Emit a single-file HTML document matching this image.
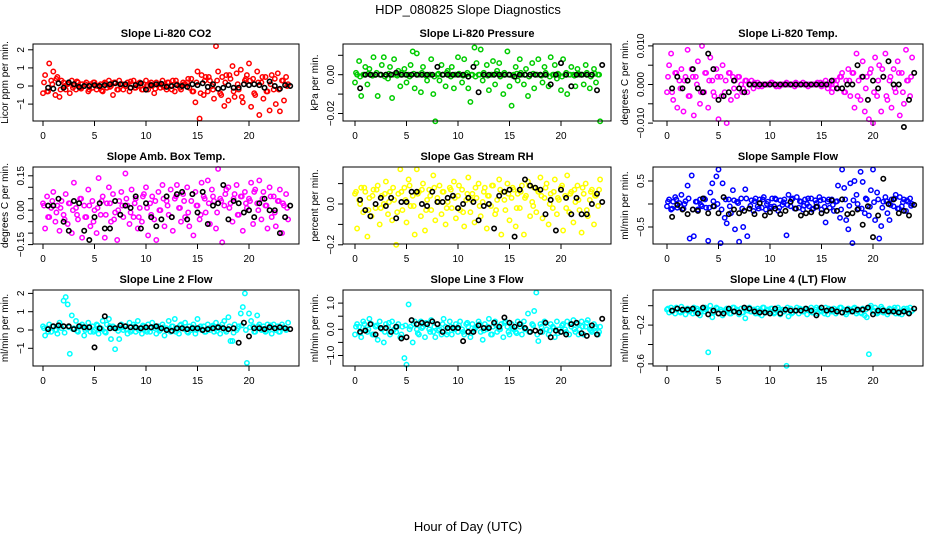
<!DOCTYPE html>
<html><head><meta charset="utf-8"><style>
body{margin:0;background:#fff}
svg{display:block;font-family:"Liberation Sans",sans-serif}
</style></head><body>
<svg id="chart" width="936" height="540" viewBox="0 0 936 540">
<text x="468" y="14" text-anchor="middle" font-size="13">HDP_080825  Slope Diagnostics</text>
<text x="468" y="531" text-anchor="middle" font-size="13">Hour of Day (UTC)</text>
</svg>
<script>
// hours of the regular sample grids
const colorHours = Array.from({length:120},(_,i)=>i*0.2);
const bandHours = Array.from({length:60},(_,i)=>i*0.4+0.1);
const blackHours = Array.from({length:48},(_,i)=>(i+1)*0.5);
const xTickValues = [0,5,10,15,20];
const xTickLabels = ["0","5","10","15","20"];

const titles = ["Slope Li-820 CO2","Slope Li-820 Pressure","Slope Li-820 Temp.","Slope Amb. Box Temp.","Slope Gas Stream RH","Slope Sample Flow","Slope Line 2 Flow","Slope Line 3 Flow","Slope Line 4 (LT) Flow"];
const yTitles = ["Licor ppm per min.","kPa per min.","degrees C per min.","degrees C per min.","percent per min.","ml/min per min.","ml/min per min.","ml/min per min.","ml/min per min."];
const colors = ["#ff0000","#00cc00","#ff00ff","#ff00ff","#ffff00","#0000ff","#00ffff","#00ffff","#00ffff"];

const yTicks = [[-1,0,1,2],[-0.02,-0.01,0,0.01],[-0.01,-0.005,0,0.005,0.01],[-0.15,-0.1,-0.05,0,0.05,0.1,0.15],[-0.2,-0.1,0,0.1],[-0.5,0,0.5],[-1,0,1,2],[-1,-0.5,0,0.5,1],[-0.6,-0.4,-0.2,0]];
const yTickLabels = [["−1","0","1","2"],["−0.02","","0.00",""],["−0.010","","0.000","","0.010"],["−0.15","","","0.00","","","0.15"],["−0.2","","0.0",""],["−0.5","","0.5"],["−1","0","1","2"],["−1.0","","0.0","","1.0"],["−0.6","","−0.2",""]];

const colorValues0 = [-0.4,0.6,-0.3,1.25,0.3,0.8,-0.5,0.5,-0.6,0.3, 0.2,-0.2,0.1,-0.4,0.3,0.0,-0.2,0.2,-0.1,0.1, 0.0,0.2,-0.3,0.1,-0.1,0.2,-0.2,0.0,0.1,-0.3, 0.2,-0.1,0.3,0.0,-0.5,0.2,-0.2,0.3,0.1,-0.2, 0.0,0.2,-0.3,0.1,0.3,-0.1,0.0,0.2,-0.2,0.1, 0.3,-0.2,0.1,0.0,-0.4,0.2,0.1,-0.1,0.3,0.0, -0.2,0.2,0.0,0.3,-0.3,0.1,0.0,-0.2,0.2,0.1, 0.2,-0.1,0.4,-0.3,-0.9,0.8,-1.8,0.6,-0.5,0.5, -0.3,0.3,0.0,-0.7,2.2,0.8,-0.4,0.5,-1.1,0.6, -0.8,0.4,1.1,-0.6,0.7,-0.2,0.9,-0.9,0.3,0.6, 1.25,-1.15,0.4,-0.5,0.8,-1.6,0.2,-0.7,0.5,-0.3, -1.35,0.6,-0.2,-1.0,0.7,-1.4,0.3,-0.8,0.5,0.1];
const bandValues0 = [0.2,-0.3,0.1,0.4,-0.2,0.0,0.15,-0.1,0.25,-0.15, 0.1,-0.2,0.2,0.0,-0.25,0.15,-0.05,0.2,-0.2,0.1, 0.0,0.25,-0.1,0.15,-0.2,0.05,0.2,-0.15,0.1,-0.05, 0.2,-0.2,0.3,-0.1,0.1,0.4,-0.3,0.2,-0.4,0.3, 0.5,-0.2,0.3,-0.5,0.2,0.6,-0.3,0.1,-0.6,0.4, 0.3,-0.4,0.2,0.5,-0.3,0.1,0.4,-0.2,0.3,0.0];
const blackValues0 = [-0.1,-0.15,0.15,-0.1,0.2,0.1,-0.05,0.0,0.0,0.05,0.0,0.05,0.1,0.15,0.1,0.1,-0.1,0.05,0.15,-0.2,0.05,0.1,0.12,-0.05,0.0,0.05,0.0,-0.05,0.1,0.05,0.15,-0.05,0.1,-0.15,-0.1,0.05,-0.1,-0.1,0.1,0.05,0.1,0.05,-0.1,0.25,0.0,-0.15,0.05,0.0];

const colorValues1 = [-0.004,0.0,0.007,-0.011,0.0,0.004,-0.005,0.003,0.0,0.009, 0.0,-0.011,0.0,0.005,0.009,0.0,-0.002,0.004,-0.012,0.008, 0.0,0.002,-0.006,0.0,0.003,-0.004,0.0,0.005,0.012,-0.007, 0.011,0.0,-0.009,0.004,0.0,-0.003,0.0,0.008,-0.01,-0.024, 0.0,-0.003,0.005,0.0,-0.006,0.002,0.0,0.004,-0.007,0.0, 0.009,0.0,-0.004,0.008,0.0,-0.007,-0.014,0.0,0.014,0.006, 0.0,0.013,-0.003,0.0,0.005,-0.008,0.0,0.007,-0.005,0.002, 0.006,0.0,-0.01,0.0,0.012,-0.006,-0.016,0.0,0.004,-0.003, 0.008,0.0,-0.005,0.003,-0.011,0.0,0.006,-0.007,0.0,0.008, 0.0,-0.004,0.004,0.0,-0.006,0.009,0.0,0.005,-0.002,0.0, -0.008,0.008,0.0,-0.01,0.0,0.004,0.0,-0.006,0.003,0.0, 0.0,-0.005,0.005,0.0,-0.007,0.0,0.003,-0.004,0.0,-0.024];
const bandValues1 = [0.001,-0.001,0,0.0005,-0.0005,0.001,0,-0.001,0.0005,0, -0.0005,0.001,0,-0.001,0.0005,0,0.001,-0.0005,0,-0.001, 0.0005,0,0.001,-0.001,0,0.0005,-0.0005,0.001,0,-0.001, 0,0.001,-0.0005,0,0.0005,-0.001,0.001,0,-0.0005,0.0005, 0.001,0,-0.001,0.0005,0,-0.0005,0.001,-0.001,0,0.0005, -0.001,0.001,0,-0.0005,0.0005,0,0.001,-0.001,0.0005,0];
const blackValues1 = [-0.007,0,0,0,0,0,0,0.001,0,0,0,0,0,0,0,0.004,0,0,0,0,0,-0.001,0.004,-0.009,0,0,0,0,0,0,-0.001,0,0,0,0,0,0,-0.005,0,0.006,0,-0.006,0,0,0,0,-0.008,0.005];

const colorValues2 = [-0.002,0.005,0.008,-0.004,0.003,-0.006,0.001,0.004,-0.007,0.002, 0.009,-0.003,0.004,-0.008,0.002,0.006,-0.005,0.010,-0.002,0.003, -0.006,0.007,0.001,-0.003,0.004,-0.009,0.002,0.005,-0.002,-0.010, 0.003,-0.004,0.002,0.001,-0.003,0.002,0.000,-0.001,0.001,-0.002, 0.000,0.001,-0.001,0.000,0.0005,0.000,-0.0005,0.000,0.000,0.000, 0.000,0.0005,0.000,-0.0005,0.000,0.000,0.000,0.000,0.0005,0.000, 0.000,0.000,-0.0005,0.000,0.000,0.000,0.0005,0.000,0.000,0.000, 0.000,0.000,0.000,0.0005,0.000,-0.0005,0.000,0.001,-0.001,0.000, -0.002,0.001,0.000,-0.001,0.002,0.003,-0.002,0.001,0.004,-0.003, 0.003,-0.006,0.008,0.001,-0.004,0.006,-0.007,0.002,-0.009,0.004, -0.010,0.007,-0.003,0.005,-0.007,0.002,0.008,-0.004,0.001,-0.006, 0.004,-0.002,0.006,-0.008,0.003,-0.005,0.009,0.001,-0.003,0.007];
const bandValues2 = [0.002,-0.002,0.003,-0.001,0.001,-0.003,0.002,0.000,-0.002,0.003, 0.001,-0.002,0.002,-0.003,0.001,0.003,-0.001,0.002,-0.002,0.001, 0.000,0.0005,-0.0005,0.000,0.000,0.0005,0.000,-0.0005,0.000,0.000, 0.000,0.0005,0.000,0.000,-0.0005,0.000,0.000,0.0005,0.000,0.000, -0.001,0.001,0.002,-0.002,0.001,0.003,-0.003,0.002,-0.001,0.003, -0.002,0.001,0.004,-0.003,0.002,-0.001,0.003,-0.002,0.001,0.002];
const blackValues2 = [-0.001,0.002,-0.001,0.001,0.004,-0.001,-0.002,0.008,0.004,-0.004,-0.003,-0.002,0.001,-0.001,-0.002,0.0,0.0,0.0,0.0,0.0,0.0,0.0,0.0,0.0,0.0,0.0,0.0,0.0,0.0,0.0,0.0,0.001,-0.001,-0.001,0.0,0.0,0.005,0.002,-0.004,0.001,-0.001,0.002,0.006,0.0,0.0,-0.011,-0.004,0.003];

const colorValues3 = [0.03,-0.08,0.06,-0.03,0.01,0.08,-0.05,0.02,-0.09,0.04, -0.02,0.07,-0.06,0.03,-0.10,0.12,0.01,-0.04,0.05,-0.12, 0.02,-0.03,0.09,-0.07,0.04,0.00,-0.10,0.14,-0.02,0.06, -0.12,0.03,0.10,-0.05,0.07,-0.01,-0.13,0.04,0.08,-0.03, 0.16,0.02,-0.06,0.09,-0.03,0.05,-0.08,0.01,-0.05,0.07, 0.10,-0.11,0.03,0.06,-0.04,-0.13,0.08,0.00,0.11,-0.07, 0.04,-0.02,0.09,-0.09,0.05,0.11,0.01,-0.05,0.07,-0.03, 0.10,-0.07,0.04,-0.11,0.08,0.02,-0.04,0.12,0.06,-0.01, 0.13,-0.06,0.09,0.04,-0.08,0.18,0.05,-0.14,0.02,0.09, 0.10,0.03,-0.05,0.07,0.11,-0.02,0.06,-0.09,0.08,0.01, 0.05,0.12,-0.06,0.09,0.03,0.13,-0.04,0.08,0.02,-0.08, 0.10,-0.03,0.06,-0.07,0.04,0.09,-0.10,0.02,0.07,-0.04];
const bandValues3 = [0.02,-0.03,0.04,-0.01,0.01,-0.04,0.03,0.00,-0.02,0.05, -0.03,0.02,-0.05,0.01,0.04,-0.02,0.03,-0.04,0.00,0.02, 0.05,-0.01,0.03,-0.03,0.06,0.01,-0.02,0.04,0.00,0.05, 0.02,-0.03,0.06,0.01,0.04,-0.01,0.07,0.02,-0.02,0.05, 0.03,0.06,-0.01,0.04,0.07,0.01,0.05,-0.02,0.06,0.03, 0.04,0.08,0.00,0.05,0.02,0.06,-0.01,0.04,0.03,0.01];
const blackValues3 = [0.02,0.02,0.05,-0.05,-0.09,0.04,0.03,-0.09,-0.13,-0.03,0.03,-0.08,-0.08,0.04,-0.02,0.02,0.01,0.06,-0.08,0.03,-0.03,-0.07,-0.04,0.06,-0.03,0.07,0.08,-0.04,0.07,-0.01,0.08,-0.06,0.02,0.03,0.11,-0.04,0.04,0.03,-0.01,0.00,-0.03,0.03,0.05,0.00,0.00,-0.10,-0.03,0.02];

const colorValues4 = [0.05,-0.12,0.02,0.08,-0.04,0.06,-0.16,0.03,-0.06,0.07, -0.02,0.09,-0.10,0.04,0.00,0.11,-0.05,0.06,-0.08,0.02, -0.20,0.05,0.17,-0.03,0.08,-0.09,0.12,-0.01,0.04,-0.15, 0.17,0.06,-0.06,0.10,-0.13,0.02,0.07,-0.03,0.14,-0.08, 0.03,0.09,-0.05,0.06,-0.10,0.01,0.08,-0.02,0.11,-0.07, 0.04,-0.03,0.07,-0.11,0.02,0.13,-0.04,0.05,-0.09,0.03, 0.10,-0.06,0.01,0.08,-0.12,0.04,-0.01,0.09,-0.05,0.02, 0.12,-0.15,0.06,-0.03,0.10,-0.08,0.03,0.07,-0.11,0.05, -0.02,0.09,-0.15,0.04,0.11,-0.06,0.01,0.08,-0.04,0.06, 0.13,-0.07,0.03,0.10,-0.10,0.05,-0.02,0.12,-0.05,0.02, 0.08,-0.13,0.04,0.14,-0.04,0.06,-0.09,0.01,0.09,-0.03, -0.14,0.05,0.10,-0.06,0.02,0.07,-0.10,0.04,-0.01,0.12];
const bandValues4 = [0.06,0.00,0.08,-0.03,0.04,0.07,-0.02,0.05,0.01,0.08, -0.04,0.06,0.02,0.09,-0.01,0.05,0.07,-0.03,0.04,0.08, 0.01,0.06,-0.02,0.07,0.03,0.09,-0.04,0.05,0.02,0.08, -0.01,0.06,0.04,0.09,-0.03,0.07,0.02,0.05,0.08,-0.02, 0.06,0.03,0.09,-0.01,0.07,0.04,0.08,0.00,0.06,0.03, 0.09,-0.02,0.05,0.07,0.02,0.08,-0.03,0.06,0.04,0.07];
const blackValues4 = [0.02,-0.03,-0.06,0.0,0.03,-0.01,0.03,-0.07,0.01,0.01,0.06,0.06,0.0,-0.01,0.06,0.01,0.01,0.03,0.04,-0.02,0.0,0.03,0.01,-0.08,-0.01,0.0,-0.12,0.04,0.06,0.07,-0.16,0.07,0.12,0.09,0.08,0.07,-0.05,0.02,-0.13,0.07,0.03,-0.05,0.03,-0.05,-0.05,0.0,0.05,0.01];

const colorValues5 = [-0.05,0.1,-0.12,0.05,0.15,-0.08,0.02,0.2,-0.1,0.06, 0.4,-0.75,0.62,-0.7,0.05,-0.12,0.1,-0.05,0.12,-0.08, -0.8,0.25,0.45,-0.05,0.6,0.75,-0.85,0.45,-0.3,-0.42, 0.1,-0.2,0.3,-0.55,0.05,-0.82,0.12,-0.5,0.32,-0.7, -0.1,0.08,-0.15,0.12,-0.05,0.1,-0.08,0.15,-0.12,0.05, -0.1,0.12,-0.05,0.1,-0.15,0.08,-0.02,0.1,-0.68,0.2, -0.05,0.12,-0.1,0.15,-0.08,0.05,-0.12,0.1,0.0,-0.05, 0.12,-0.1,0.08,-0.05,0.15,-0.12,0.1,-0.4,0.05,-0.08, 0.1,-0.15,0.05,0.4,-0.3,0.75,0.35,-0.35,-0.55,0.45, -0.85,0.5,0.2,-0.1,0.7,0.48,-0.2,0.1,-0.25,0.3, 0.75,-0.35,0.25,-0.75,-0.48,0.05,0.15,-0.2,-0.35,0.1, -0.05,0.2,-0.1,0.15,-0.05,0.1,-0.15,0.05,0.12,0.0];
const bandValues5 = [0.05,-0.1,0.1,-0.05,0.0,0.12,-0.12,0.05,-0.02,0.1, -0.08,0.06,0.0,-0.12,0.1,-0.05,0.08,0.02,-0.1,0.12, -0.04,0.06,-0.1,0.1,0.0,-0.06,0.12,-0.08,0.04,-0.02, 0.1,-0.1,0.06,-0.04,0.12,-0.12,0.02,0.08,-0.06,0.1, -0.02,0.06,-0.12,0.1,-0.04,0.08,0.0,-0.1,0.12,-0.06, 0.04,0.1,-0.08,0.06,-0.02,0.12,-0.1,0.04,0.08,-0.04];
const blackValues5 = [-0.28,-0.02,-0.12,-0.22,-0.12,-0.15,0.12,-0.2,-0.05,-0.2,0.15,-0.22,-0.12,-0.2,-0.15,-0.1,-0.22,0.02,-0.25,-0.18,-0.1,-0.22,-0.15,0.05,-0.1,-0.25,-0.2,-0.18,-0.06,-0.2,-0.15,0.08,-0.15,0.1,-0.22,-0.2,-0.12,-0.45,-0.05,-0.72,-0.25,0.55,0.0,0.1,-0.2,-0.15,-0.25,-0.02];

const colorValues6 = [0.2,-0.3,0.1,0.3,-0.1,0.2,0.0,-0.2,0.4,0.1, 1.6,1.8,1.4,-1.3,0.8,0.1,0.5,-0.1,0.2,0.3, -0.3,0.1,0.4,-0.1,0.2,0.0,0.3,-0.2,0.1,0.5, -0.1,0.3,0.6,-0.5,0.2,-1.05,0.1,-0.5,0.3,0.0, 0.2,-0.2,0.4,0.0,0.3,-0.1,0.5,0.1,-0.2,0.2, 0.0,0.3,-0.1,0.4,0.1,-0.2,0.2,0.0,0.3,-0.3, 0.1,0.5,-0.1,0.2,0.6,0.0,-0.2,0.3,0.1,0.4, -0.1,0.2,0.0,0.3,-0.2,0.6,0.1,0.0,0.2,-0.1, 0.3,0.0,0.2,-0.1,0.4,0.1,-0.2,0.3,0.5,-0.1, 0.7,-0.6,-0.6,0.3,0.0,0.2,0.9,1.25,2.0,-1.8, 0.9,0.5,0.2,-0.1,0.8,0.3,0.0,0.2,-0.1,0.3, 0.1,-0.2,0.3,0.0,0.2,-0.1,0.3,0.1,0.0,0.4];
const bandValues6 = [0.1,-0.1,0.2,0.0,0.25,-0.15,0.15,0.05,-0.05,0.2, 0.0,0.15,-0.1,0.25,0.05,-0.15,0.2,0.1,-0.05,0.15, 0.05,-0.1,0.2,0.0,0.25,-0.1,0.1,0.2,-0.05,0.15, 0.0,0.2,-0.1,0.25,0.05,-0.15,0.15,0.0,0.2,-0.1, 0.1,0.25,-0.05,0.15,0.0,0.2,-0.15,0.1,0.25,0.0, 0.15,-0.1,0.2,0.05,-0.05,0.25,0.1,-0.1,0.15,0.05];
const blackValues6 = [0.05,0.2,0.25,0.2,0.2,0.05,0.2,0.15,0.15,-0.95,0.1,0.75,0.1,0.1,0.25,0.2,0.15,0.15,0.1,0.15,0.15,0.2,0.1,0.0,-0.05,0.1,0.1,0.05,0.1,0.1,0.0,0.05,0.1,0.15,0.1,0.05,0.1,-0.7,0.4,-0.35,0.1,0.1,0.05,0.15,0.1,0.15,0.1,0.05];

const colorValues7 = [-0.2,0.2,0.1,-0.3,0.3,0.0,-0.1,0.4,0.2,-0.2, 0.1,-0.4,0.3,0.0,-0.5,0.2,0.1,-0.2,0.3,0.0, -0.1,0.2,-0.3,0.1,-1.1,-1.35,0.95,0.1,-0.5,0.3, 0.0,-0.2,0.3,0.1,-0.3,0.2,0.0,0.35,-0.1,-0.3, 0.2,0.0,-0.2,0.4,0.1,-0.1,0.3,-0.2,0.0,0.2, -0.1,0.3,0.0,-0.2,0.2,0.1,-0.3,0.2,0.0,0.1, 0.3,-0.1,-0.4,0.2,0.0,0.4,-0.2,0.1,0.3,-0.1, 0.0,0.2,-0.3,0.3,0.1,-0.2,0.2,0.0,-0.1,0.3, 0.1,-0.2,0.3,0.0,0.6,-0.1,0.2,0.7,1.4,-0.45, 0.2,-0.1,0.3,0.0,-0.2,0.2,0.1,-0.3,0.3,0.0, -0.1,0.2,0.0,0.3,-0.2,0.1,0.35,-0.1,0.2,0.0, 0.3,-0.2,0.1,0.35,0.0,-0.1,0.2,0.1,-0.2,0.1];
const bandValues7 = [0.1,-0.15,0.2,0.0,-0.2,0.15,0.05,-0.1,0.25,-0.05, 0.1,-0.2,0.15,0.0,0.2,-0.15,0.05,0.25,-0.1,0.1, -0.05,0.2,-0.2,0.1,0.0,0.15,-0.1,0.25,-0.15,0.05, 0.2,-0.05,0.1,-0.2,0.15,0.0,0.25,-0.1,0.05,-0.15, 0.2,0.0,-0.1,0.15,-0.2,0.1,0.25,-0.05,0.05,-0.15, 0.15,-0.1,0.2,0.0,-0.2,0.1,0.25,-0.05,0.05,-0.1];
const blackValues7 = [-0.1,-0.05,0.2,-0.2,0.05,0.05,-0.1,0.1,-0.35,-0.3,0.35,0.2,0.25,0.2,0.3,0.2,-0.1,0.05,0.05,0.05,-0.45,-0.1,-0.1,0.15,0.05,0.05,0.25,0.1,0.45,0.25,0.1,0.2,0.05,-0.1,-0.05,-0.1,0.25,-0.3,-0.05,-0.1,-0.2,0.2,0.25,-0.15,-0.25,0.15,-0.2,0.4];

const colorValues8 = [-0.04,-0.07,-0.02,-0.05,-0.08,-0.03,-0.06,-0.01,-0.05,-0.09, -0.03,-0.06,-0.04,-0.02,-0.07,-0.05,-0.1,-0.03,-0.06,-0.04, -0.48,0.0,-0.12,-0.05,-0.02,-0.08,-0.04,-0.1,-0.06,-0.03, -0.05,-0.08,-0.02,-0.06,-0.04,-0.09,-0.03,-0.07,-0.13,-0.05, -0.02,-0.06,-0.04,-0.08,-0.03,-0.05,-0.1,-0.02,-0.07,-0.04, -0.06,-0.03,-0.08,-0.05,-0.02,-0.09,-0.04,-0.06,-0.62,-0.11, -0.03,-0.07,-0.05,-0.02,-0.08,-0.04,-0.06,-0.03,-0.09,-0.05, -0.02,-0.07,-0.04,-0.08,-0.03,-0.06,-0.05,-0.02,-0.09,-0.04, -0.06,-0.03,-0.08,-0.05,-0.02,-0.07,-0.04,-0.09,-0.03,-0.06, -0.05,-0.02,-0.08,-0.04,-0.07,-0.03,-0.1,-0.12,-0.5,0.0, -0.06,-0.02,-0.08,-0.04,-0.01,-0.07,-0.05,-0.09,-0.03,-0.06, -0.04,-0.08,-0.02,-0.06,-0.09,-0.03,-0.05,-0.07,-0.02,-0.05];
const bandValues8 = [-0.03,-0.06,-0.02,-0.07,-0.04,-0.05,-0.08,-0.03,-0.06,-0.02, -0.05,-0.07,-0.03,-0.06,-0.04,-0.08,-0.02,-0.05,-0.07,-0.03, -0.06,-0.04,-0.08,-0.02,-0.05,-0.03,-0.07,-0.04,-0.06,-0.02, -0.08,-0.05,-0.03,-0.06,-0.04,-0.07,-0.02,-0.05,-0.08,-0.03, -0.06,-0.04,-0.02,-0.07,-0.05,-0.03,-0.06,-0.08,-0.04,-0.02, -0.05,-0.07,-0.03,-0.06,-0.04,-0.02,-0.08,-0.05,-0.03,-0.06];
const blackValues8 = [-0.05,-0.03,-0.04,-0.04,-0.03,-0.08,-0.02,-0.09,-0.05,-0.08,-0.08,-0.03,-0.06,-0.07,-0.02,-0.03,-0.06,-0.07,-0.07,-0.08,-0.03,-0.08,-0.04,-0.05,-0.05,-0.05,-0.03,-0.05,-0.1,-0.02,-0.05,-0.04,-0.06,-0.07,-0.04,-0.06,-0.04,-0.04,-0.02,-0.09,-0.05,-0.05,-0.06,-0.06,-0.07,-0.06,-0.08,-0.03];

const colorSeries = [colorValues0,colorValues1,colorValues2,colorValues3,colorValues4,colorValues5,colorValues6,colorValues7,colorValues8];
const bandSeries = [bandValues0,bandValues1,bandValues2,bandValues3,bandValues4,bandValues5,bandValues6,bandValues7,bandValues8];
const blackSeries = [blackValues0,blackValues1,blackValues2,blackValues3,blackValues4,blackValues5,blackValues6,blackValues7,blackValues8];

// layout (pixels, not data)
const boxLeft=[33,343,653], boxRight=[299,611,923];
const boxTop=[44,167,290], boxBottom=[121,244,366];
const yZero=[86,74.7,84.5,210.2,204,204,330,329.3,305.7];
const yScale=[18.1,1940,3860,229.3,204,46,18.3,26.2,97];

const NS="http://www.w3.org/2000/svg";
const svg=document.getElementById('chart');
function mk(tag,attrs,parent){const e=document.createElementNS(NS,tag);for(const k in attrs)e.setAttribute(k,attrs[k]);(parent||svg).appendChild(e);return e;}

for(let p=0;p<9;p++){
  const c=p%3, r=Math.floor(p/3);
  const L=boxLeft[c],R=boxRight[c],T=boxTop[r],B=boxBottom[r];
  const xPos=h=>43+312*c+h*10.3;
  const yPos=v=>yZero[p]-v*yScale[p];
  const g=mk('g',{});
  
  
  const t=mk('text',{x:(L+R)/2,y:T-7,'text-anchor':'middle','font-size':'11','font-weight':'bold'},g);
  t.textContent=titles[p];
  
  
  const cg=mk('g',{fill:'none',stroke:colors[p],'stroke-width':'1.5'},g);
  
  
  colorSeries[p].forEach((v,i)=>{
    const pt=mk('circle',{cx:xPos(colorHours[i]).toFixed(1),cy:yPos(v).toFixed(1),r:2.2},cg);
    
    
  });
  bandSeries[p].forEach((v,i)=>{
    const pt=mk('circle',{cx:xPos(bandHours[i]).toFixed(1),cy:yPos(v).toFixed(1),r:2.2},cg);
    
    
  });
  const bg=mk('g',{fill:'none',stroke:'#000','stroke-width':'1.6'},g);
  
  
  blackSeries[p].forEach((v,i)=>{
    const pt=mk('circle',{cx:xPos(blackHours[i]).toFixed(1),cy:yPos(v).toFixed(1),r:2.2},bg);
    
    
  });
  const box=mk('rect',{x:L,y:T,width:R-L,height:B-T,fill:'none',stroke:'#000','stroke-width':'1'},g);
  
  
  xTickValues.forEach((h,i)=>{
    const x=xPos(h);
    mk('line',{x1:x,x2:x,y1:B,y2:B+5,stroke:'#000'},g);
    const tl=mk('text',{x:x,y:B+18,'text-anchor':'middle','font-size':'10'},g);
    tl.textContent=xTickLabels[i];
    
    
  });
  yTicks[p].forEach((v,i)=>{
    const y=yPos(v);
    mk('line',{x1:L-5,x2:L,y1:y,y2:y,stroke:'#000'},g);
    if(yTickLabels[p][i]){
      const tl=mk('text',{x:L-9,y:y,'text-anchor':'middle','font-size':'10',transform:`rotate(-90 ${L-9} ${y})`},g);
      tl.textContent=yTickLabels[p][i];
      
      
    }
  });
  const yl=mk('text',{x:L-25,y:(T+B)/2,'text-anchor':'middle','font-size':'10',transform:`rotate(-90 ${L-25} ${(T+B)/2})`},g);
  yl.textContent=yTitles[p];
  
  
}
</script>
</body></html>
